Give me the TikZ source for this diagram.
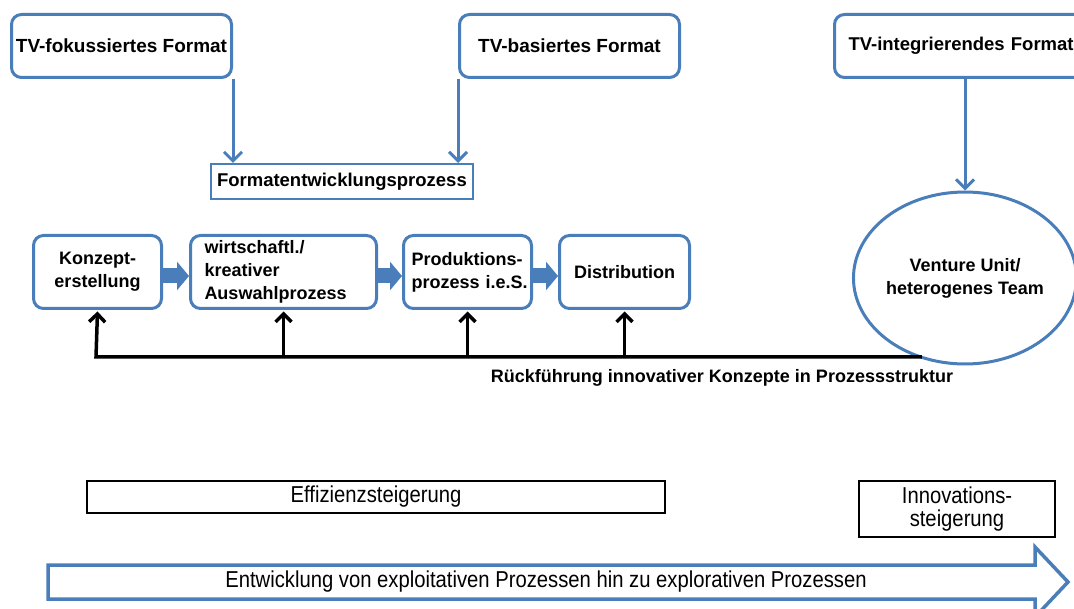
\documentclass[tikz,border=0pt]{standalone}
\usepackage{fontspec}
\setmainfont{Liberation Sans}
\newfontfamily\narrowfont{Liberation Sans}[FakeStretch=0.88]
\usetikzlibrary{arrows.meta,shapes.geometric,calc}
\definecolor{boxblue}{RGB}{74,126,187}
\begin{document}
\begin{tikzpicture}[x=1pt,y=-1pt,
  every node/.style={font=\fontsize{18}{23}\selectfont\bfseries, text=black},
  fmtbox/.style={draw=boxblue, line width=3pt, rounded corners=10pt, fill=white,
    minimum width=220pt, minimum height=63pt, anchor=north west, inner sep=0pt,
    font=\fontsize{19}{23}\selectfont\bfseries},
  stepbox/.style={draw=boxblue, line width=3pt, rounded corners=10pt,
    minimum height=73pt, anchor=north west, inner sep=0pt},
  flowarrow/.style={draw=boxblue, line width=3pt, -{Straight Barb[length=9pt,width=18pt]}},
  feedline/.style={draw=black, line width=3.5pt, line join=miter, -{Straight Barb[length=8pt,width=16pt]}},
  blockarrow/.style={draw=boxblue, line width=15pt, -{Triangle[length=12pt,width=28pt]}},
  goalbox/.style={draw=black, line width=2pt, inner sep=0pt, anchor=north west,
    font=\narrowfont\fontsize{23}{23}\selectfont},
]
\useasboundingbox (0,0) rectangle (1074,609);
\clip (0,0) rectangle (1074,609);
\fill[white] (0,0) rectangle (1074,609);

% format types
\node[fmtbox] (tvf) at (10,13) {TV-fokussiertes Format};
\node[fmtbox] (tvb) at (458,13) {TV-basiertes Format};
\node[fmtbox, minimum width=262pt, text width=248pt, inner xsep=7pt, align=left,
  font=\fontsize{18.5}{23}\selectfont\bfseries] (tvi) at (833,13) {\hspace*{7pt}TV-integrierendes Format};

% format development
\node[draw=boxblue, line width=1.8pt, minimum width=262pt, minimum height=35pt,
  anchor=north west, inner sep=0pt, font=\fontsize{18.5}{23}\selectfont\bfseries] (fep) at (210,163) {Formatentwicklungsprozess};

% process chain
\node[stepbox, minimum width=128pt, align=center] (k) at (32,234) {Konzept-\\erstellung};
\node[stepbox, minimum width=186pt, text width=158pt, inner xsep=14pt, align=left] (w) at (189,234) {wirtschaftl./\\kreativer\\Auswahlprozess};
\node[stepbox, minimum width=128pt, text width=112pt, inner xsep=8pt, align=left] (p) at (402,234) {Produktions-\\\mbox{prozess i.e.S.}};
\node[stepbox, minimum width=130pt] (d) at (558,234) {Distribution};

% venture unit
\node[ellipse, draw=boxblue, line width=3pt, minimum width=214pt, minimum height=172pt,
  inner sep=0pt, align=center] (vu) at (965,278) {Venture Unit/\\heterogenes Team};

% arrows from the format types
\draw[flowarrow] (tvf.south east) -- (tvf.south east |- fep.north);
\draw[flowarrow] (tvb.south west) -- (tvb.south west |- fep.north);
\draw[flowarrow] (tvi.south west -| vu.north) -- (vu.north);

% block arrows between process steps
\coordinate (ar) at (0,276);
\draw[blockarrow] (k.east |- ar) -- (w.west |- ar);
\draw[blockarrow] (w.east |- ar) -- (p.west |- ar);
\draw[blockarrow] (p.east |- ar) -- (d.west |- ar);

% feedback of innovative concepts
\coordinate (fb) at (96,357);
\draw[feedline] (fb -| vu.242) -- (fb) -- ([yshift=-1.5pt]k.south);
\foreach \n in {w,p,d} {
  \draw[feedline] (\n.south |- fb) -- ([yshift=-1.5pt]\n.south);
}
\node (fbl) at (722,378) {Rückführung innovativer Konzepte in Prozessstruktur};

% goals
\node[goalbox, minimum width=578pt, minimum height=32pt] (eff) at (86,480) {Effizienzsteigerung};
\node[goalbox, minimum width=196pt, minimum height=56pt, align=center] (inn) at (858,480) {Innovations-\\steigerung};

% development arrow
\draw[boxblue, line width=3.5pt, fill=white, line join=miter]
  (48,565) -- (1035,565) -- (1035,547) -- (1068,582) -- (1035,617) -- (1035,599) -- (48,599) -- cycle;
\node[font=\narrowfont\fontsize{23}{23}\selectfont] (dev) at (546,582)
  {Entwicklung von exploitativen Prozessen hin zu explorativen Prozessen};
\end{tikzpicture}
\end{document}
